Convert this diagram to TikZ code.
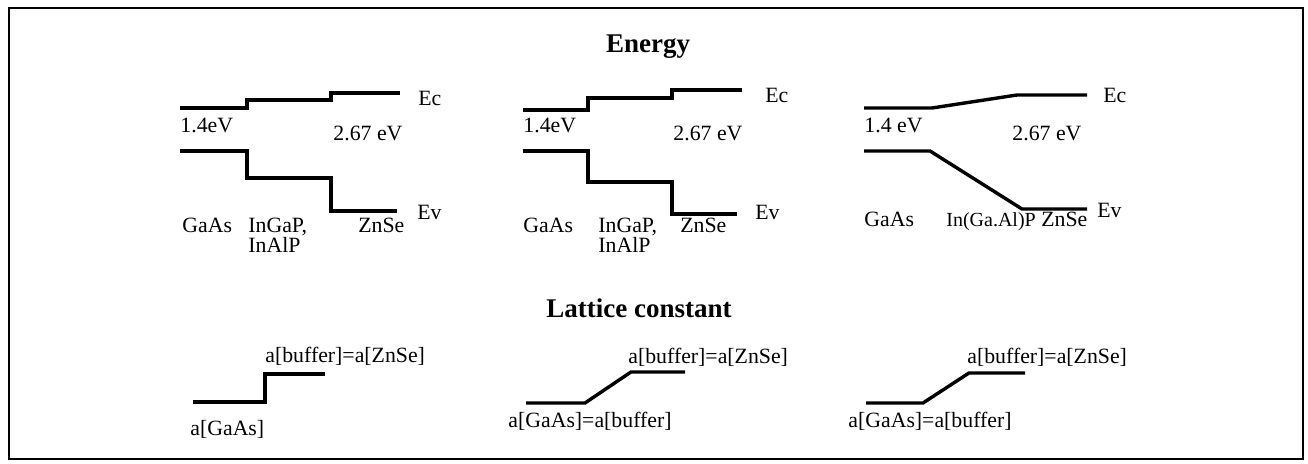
\documentclass[tikz,border=0pt]{standalone}
\usepackage{fontspec}
\setmainfont{Liberation Serif}
\begin{document}
\begin{tikzpicture}[x=0.5pt, y=-0.5pt,
    every node/.style={font=\fontsize{10.9}{13}\selectfont, inner sep=0pt},
    lbl/.style={anchor=base west},
    ttl/.style={anchor=base, font=\fontsize{13.5}{16}\selectfont\bfseries},
    band/.style={line width=1.7pt, line join=miter}]
  \useasboundingbox (0,0) rectangle (1308,464);
  \draw[line width=1.2pt] (9,8) rectangle (1303,459);
  \node[ttl] (energy) at (648,53) {Energy};
  \node[ttl] (lattice) at (639,318) {Lattice constant};
  % energy, steps
  \draw[band] (180,108) -- (247,108) -- (247,100) -- (331,100) -- (331,93) -- (400,93);
  \draw[band] (180,151) -- (247,151) -- (247,178) -- (331,178) -- (331,211) -- (397,211);
  \node[lbl] (ec1) at (418,106) {Ec}; \node[lbl] (ev1) at (417,220) {Ev};
  \node[lbl] (gap1a) at (180,133) {1.4eV}; \node[lbl] (gap1b) at (333,141) {2.67 eV};
  \node[lbl] (gaas1) at (182,233) {GaAs}; \node[lbl] (ingap1) at (248,233) {InGaP,};
  \node[lbl] (inalp1) at (248,253) {InAlP}; \node[lbl] (znse1) at (358,233) {ZnSe};
  \draw[band] (523,110) -- (588,110) -- (588,98) -- (672,98) -- (672,90) -- (742,90);
  \draw[band] (523,151) -- (588,151) -- (588,182) -- (672,182) -- (672,214) -- (737,214);
  \node[lbl] (ec2) at (765,103) {Ec}; \node[lbl] (ev2) at (755,220) {Ev};
  \node[lbl] (gap2a) at (523,133) {1.4eV}; \node[lbl] (gap2b) at (673,141) {2.67 eV};
  \node[lbl] (gaas2) at (523,233) {GaAs}; \node[lbl] (ingap2) at (598,233) {InGaP,};
  \node[lbl] (inalp2) at (598,253) {InAlP}; \node[lbl] (znse2) at (680,233) {ZnSe};
  % energy, graded
  \draw[band] (864,108) -- (932,108) -- (1017,95) -- (1087,95);
  \draw[band] (864,151) -- (930,151) -- (1022,209) -- (1087,209);
  \node[lbl] (ec3) at (1103,103) {Ec}; \node[lbl] (ev3) at (1097,218) {Ev};
  \node[lbl] (gap3a) at (864,133) {1.4 eV}; \node[lbl] (gap3b) at (1012,141) {2.67 eV};
  \node[lbl] (gaas3) at (864,227) {GaAs};
  \node[lbl, font=\fontsize{10}{12}\selectfont] (ingaalp3) at (946,227) {In(Ga.Al)P};
  \node[lbl] (znse3) at (1041,227) {ZnSe};
  % lattice constant
  \draw[band] (193,402) -- (265,402) -- (265,374) -- (325,374);
  \node[lbl] (top1) at (265,363) {a[buffer]=a[ZnSe]}; \node[lbl] (low1) at (190,436) {a[GaAs]};
  \draw[band] (526,403) -- (585,403) -- (631,372) -- (685,372);
  \node[lbl] (top2) at (628,364) {a[buffer]=a[ZnSe]}; \node[lbl] (low2) at (508,428) {a[GaAs]=a[buffer]};
  \draw[band] (866,403) -- (923,403) -- (969,373) -- (1025,373);
  \node[lbl] (top3) at (967,364) {a[buffer]=a[ZnSe]}; \node[lbl] (low3) at (848,428) {a[GaAs]=a[buffer]};
\end{tikzpicture}
\end{document}
